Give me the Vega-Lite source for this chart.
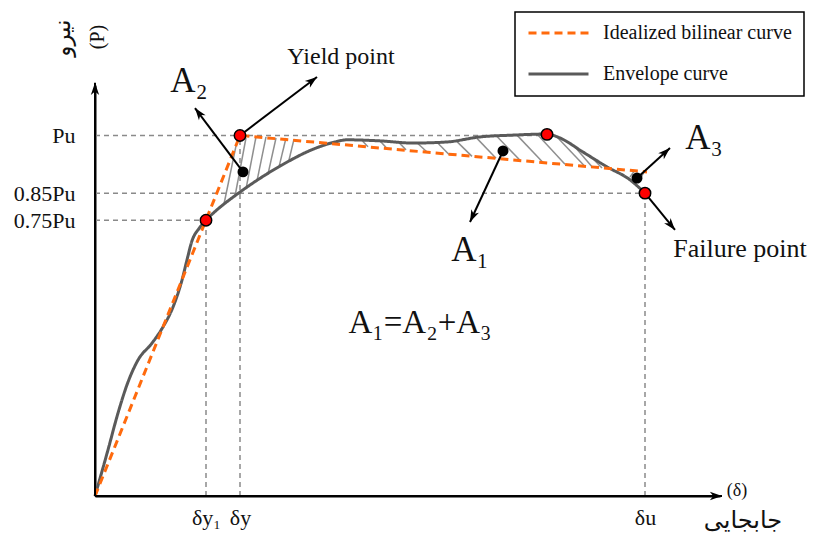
{
  "$schema": "https://vega.github.io/schema/vega-lite/v6.json",
  "width": 625,
  "height": 411,
  "autosize": {"type": "none"},
  "padding": {"left": 95, "top": 85, "right": 96, "bottom": 43},
  "background": "white",
  "config": {
    "view": {"stroke": null},
    "font": "Liberation Serif",
    "axis": {"grid": false, "ticks": false, "domainColor": "#000000", "domainWidth": 2, "labelFont": "Liberation Serif", "labelColor": "#111111", "labelFontSize": 22},
    "legend": {"orient": "none", "legendX": 420, "legendY": -73, "strokeColor": "#000000", "strokeWidth": 1.5, "padding": 12, "symbolType": "stroke", "symbolSize": 3600, "symbolStrokeWidth": 3, "clipHeight": 18, "rowPadding": 21, "labelFont": "Liberation Serif", "labelFontSize": 20, "labelColor": "#111111", "labelOffset": 13, "labelLimit": 320}
  },
  "datasets": {
    "guides": [
      {"line": "Pu", "d": 0, "P": 100, "d2": 90.4, "P2": 100},
      {"line": "0.85Pu", "d": 0, "P": 84, "d2": 110, "P2": 84},
      {"line": "0.75Pu", "d": 0, "P": 76.5, "d2": 22.2, "P2": 76.5},
      {"line": "δy1", "d": 22.2, "P": 0, "d2": 22.2, "P2": 76.5},
      {"line": "δy", "d": 29, "P": 0, "d2": 29, "P2": 100},
      {"line": "δu", "d": 110, "P": 0, "d2": 110, "P2": 84}
    ],
    "hatch": [
      {"area": "A2", "d": 28.2, "P": 97.1, "d2": 25.8, "P2": 81.0},
      {"area": "A2", "d": 30.2, "P": 99.3, "d2": 28.0, "P2": 83.2},
      {"area": "A2", "d": 32.2, "P": 99.6, "d2": 30.2, "P2": 85.2},
      {"area": "A2", "d": 34.2, "P": 99.6, "d2": 32.4, "P2": 87.4},
      {"area": "A2", "d": 36.2, "P": 99.3, "d2": 34.6, "P2": 89.3},
      {"area": "A2", "d": 38.2, "P": 99.3, "d2": 36.8, "P2": 91.3},
      {"area": "A2", "d": 39.8, "P": 99.0, "d2": 38.8, "P2": 93.2},
      {"area": "A1", "d": 53.4, "P": 98.6, "d2": 54.6, "P2": 96.9},
      {"area": "A1", "d": 57.0, "P": 98.5, "d2": 58.4, "P2": 96.4},
      {"area": "A1", "d": 60.6, "P": 98.3, "d2": 62.2, "P2": 96.0},
      {"area": "A1", "d": 64.4, "P": 98.0, "d2": 66.4, "P2": 95.4},
      {"area": "A1", "d": 68.4, "P": 98.1, "d2": 70.8, "P2": 94.7},
      {"area": "A1", "d": 72.4, "P": 98.3, "d2": 75.4, "P2": 94.2},
      {"area": "A1", "d": 76.4, "P": 99.2, "d2": 80.2, "P2": 93.7},
      {"area": "A1", "d": 80.4, "P": 99.7, "d2": 85.0, "P2": 93.1},
      {"area": "A1", "d": 84.4, "P": 100.1, "d2": 89.6, "P2": 92.5},
      {"area": "A1", "d": 88.4, "P": 100.4, "d2": 94.0, "P2": 92.0},
      {"area": "A1", "d": 92.4, "P": 99.6, "d2": 98.0, "P2": 91.4},
      {"area": "A1", "d": 96.0, "P": 96.8, "d2": 99.4, "P2": 91.3},
      {"area": "A1", "d": 99.4, "P": 93.8, "d2": 101.4, "P2": 91.0},
      {"area": "A3", "d": 107.8, "P": 90.0, "d2": 107.0, "P2": 88.5},
      {"area": "A3", "d": 109.8, "P": 89.9, "d2": 108.6, "P2": 86.8}
    ],
    "curves": [
      {"series": "Envelope curve", "d": 0, "P": 0},
      {"series": "Envelope curve", "d": 2.6, "P": 12.8},
      {"series": "Envelope curve", "d": 4.6, "P": 23.0},
      {"series": "Envelope curve", "d": 6.6, "P": 31.6},
      {"series": "Envelope curve", "d": 8.6, "P": 37.7},
      {"series": "Envelope curve", "d": 11.4, "P": 42.4},
      {"series": "Envelope curve", "d": 13.6, "P": 46.9},
      {"series": "Envelope curve", "d": 15.6, "P": 52.4},
      {"series": "Envelope curve", "d": 17.4, "P": 59.9},
      {"series": "Envelope curve", "d": 18.4, "P": 65.5},
      {"series": "Envelope curve", "d": 19.4, "P": 70.8},
      {"series": "Envelope curve", "d": 20.8, "P": 74.2},
      {"series": "Envelope curve", "d": 22.2, "P": 76.5},
      {"series": "Envelope curve", "d": 24.0, "P": 78.9},
      {"series": "Envelope curve", "d": 26.0, "P": 81.2},
      {"series": "Envelope curve", "d": 28.0, "P": 83.3},
      {"series": "Envelope curve", "d": 30.0, "P": 85.3},
      {"series": "Envelope curve", "d": 32.0, "P": 87.2},
      {"series": "Envelope curve", "d": 34.0, "P": 89.0},
      {"series": "Envelope curve", "d": 36.0, "P": 90.7},
      {"series": "Envelope curve", "d": 38.0, "P": 92.3},
      {"series": "Envelope curve", "d": 40.0, "P": 93.8},
      {"series": "Envelope curve", "d": 42.0, "P": 95.2},
      {"series": "Envelope curve", "d": 44.0, "P": 96.4},
      {"series": "Envelope curve", "d": 46.0, "P": 97.4},
      {"series": "Envelope curve", "d": 48.0, "P": 98.2},
      {"series": "Envelope curve", "d": 50.4, "P": 98.8},
      {"series": "Envelope curve", "d": 57.0, "P": 98.5},
      {"series": "Envelope curve", "d": 63.6, "P": 97.9},
      {"series": "Envelope curve", "d": 70.4, "P": 98.2},
      {"series": "Envelope curve", "d": 77.0, "P": 99.6},
      {"series": "Envelope curve", "d": 83.6, "P": 100.1},
      {"series": "Envelope curve", "d": 90.4, "P": 100.4},
      {"series": "Envelope curve", "d": 93.0, "P": 99.3},
      {"series": "Envelope curve", "d": 97.6, "P": 95.4},
      {"series": "Envelope curve", "d": 102.4, "P": 91.3},
      {"series": "Envelope curve", "d": 107.0, "P": 87.7},
      {"series": "Envelope curve", "d": 110.0, "P": 84.0},
      {"series": "Idealized bilinear curve", "d": 0, "P": 0},
      {"series": "Idealized bilinear curve", "d": 29, "P": 100},
      {"series": "Idealized bilinear curve", "d": 110.4, "P": 89.9}
    ],
    "arrows": [
      {"to": "Yield point", "d": 29, "P": 100, "d2": 44.4, "P2": 116.2},
      {"to": "A2", "d": 29.6, "P": 89.9, "d2": 20.0, "P2": 107.6},
      {"to": "A1", "d": 81.6, "P": 95.7, "d2": 75.0, "P2": 76.0},
      {"to": "A3", "d": 108.4, "P": 88.2, "d2": 115.0, "P2": 96.5},
      {"to": "Failure point", "d": 110, "P": 84.0, "d2": 116.0, "P2": 73.8},
      {"to": "P axis", "d": 0, "P": 0, "d2": 0, "P2": 114.6},
      {"to": "δ axis", "d": 0, "P": 0, "d2": 125.4, "P2": 0}
    ],
    "points": [
      {"kind": "key point", "name": "yield", "d": 29, "P": 100},
      {"kind": "key point", "name": "0.75Pu", "d": 22.2, "P": 76.5},
      {"kind": "key point", "name": "peak", "d": 90.4, "P": 100.3},
      {"kind": "key point", "name": "failure", "d": 110, "P": 84.0},
      {"kind": "area marker", "name": "A2", "d": 29.6, "P": 89.9},
      {"kind": "area marker", "name": "A1", "d": 81.6, "P": 95.7},
      {"kind": "area marker", "name": "A3", "d": 108.4, "P": 88.2}
    ],
    "labels": [
      {"role": "area", "text": "A₂", "d": 18.8, "P": 115.1},
      {"role": "area", "text": "A₁", "d": 75.0, "P": 68.2},
      {"role": "area", "text": "A₃", "d": 121.8, "P": 99.3},
      {"role": "callout", "text": "Yield point", "d": 49.2, "P": 121.8},
      {"role": "callout big", "text": "Failure point", "d": 129.0, "P": 68.5},
      {"role": "equation", "text": "A₁=A₂+A₃", "d": 65.0, "P": 48.0},
      {"role": "axis symbol", "text": "(δ)", "d": 128.4, "P": 1.4},
      {"role": "axis word", "text": "جابجایی", "d": 129.6, "P": -6.9},
      {"role": "vertical word", "text": "نیرو", "d": -6.4, "P": 127.0},
      {"role": "vertical symbol", "text": "(P)", "d": 0.6, "P": 127.3}
    ]
  },
  "layer": [
    {
      "data": {"name": "guides"},
      "mark": {"type": "rule", "color": "#8a8a8a", "strokeWidth": 1.5, "strokeDash": [5, 4]},
      "encoding": {
        "x": {"field": "d", "type": "quantitative", "scale": {"domain": [0, 125], "nice": false, "zero": false},
              "axis": {"title": null, "values": [22.2, 29, 110], "labelExpr": "datum.value < 25 ? 'δy₁' : datum.value < 50 ? 'δy' : 'δu'", "labelPadding": 11, "labelOverlap": false, "labelFlush": false, "grid": false, "ticks": false}},
        "y": {"field": "P", "type": "quantitative", "scale": {"domain": [0, 114], "nice": false, "zero": false},
              "axis": {"title": null, "values": [100, 84, 76.5], "labelExpr": "datum.value > 95 ? 'Pu' : datum.value > 80 ? '0.85Pu' : '0.75Pu'", "labelPadding": 20, "labelOverlap": false, "labelFlush": false, "grid": false, "ticks": false}},
        "x2": {"field": "d2"},
        "y2": {"field": "P2"}
      }
    },
    {
      "data": {"name": "hatch"},
      "mark": {"type": "rule", "color": "#8f8f8f", "strokeWidth": 1.5},
      "encoding": {
        "x": {"field": "d", "type": "quantitative"},
        "y": {"field": "P", "type": "quantitative"},
        "x2": {"field": "d2"},
        "y2": {"field": "P2"}
      }
    },
    {
      "data": {"name": "curves"},
      "transform": [{"filter": "datum.series == 'Envelope curve'"}],
      "mark": {"type": "line", "interpolate": "monotone", "strokeWidth": 3},
      "encoding": {
        "x": {"field": "d", "type": "quantitative"},
        "y": {"field": "P", "type": "quantitative"},
        "color": {"field": "series", "type": "nominal", "scale": {"domain": ["Idealized bilinear curve", "Envelope curve"], "range": ["#ff6a0d", "#5a5a5a"]}, "legend": {"title": null}},
        "strokeDash": {"field": "series", "type": "nominal", "scale": {"domain": ["Idealized bilinear curve", "Envelope curve"], "range": [[8, 5], [1, 0]]}, "legend": {"title": null}}
      }
    },
    {
      "data": {"name": "curves"},
      "transform": [{"filter": "datum.series == 'Idealized bilinear curve'"}],
      "mark": {"type": "line", "interpolate": "linear", "strokeWidth": 3},
      "encoding": {
        "x": {"field": "d", "type": "quantitative"},
        "y": {"field": "P", "type": "quantitative"},
        "color": {"field": "series", "type": "nominal", "scale": {"domain": ["Idealized bilinear curve", "Envelope curve"], "range": ["#ff6a0d", "#5a5a5a"]}, "legend": {"title": null}},
        "strokeDash": {"field": "series", "type": "nominal", "scale": {"domain": ["Idealized bilinear curve", "Envelope curve"], "range": [[8, 5], [1, 0]]}, "legend": {"title": null}}
      }
    },
    {
      "data": {"name": "arrows"},
      "mark": {"type": "rule", "color": "#000000", "strokeWidth": 2},
      "encoding": {
        "x": {"field": "d", "type": "quantitative"},
        "y": {"field": "P", "type": "quantitative"},
        "x2": {"field": "d2"},
        "y2": {"field": "P2"}
      }
    },
    {
      "data": {"name": "arrows"},
      "transform": [{"calculate": "atan2((datum.d2 - datum.d) * 5, (datum.P2 - datum.P) * 3.605) * 180 / PI", "as": "heading"}],
      "mark": {"type": "point", "shape": "M0,0 L0.55,1.6 L0,1.15 L-0.55,1.6 Z", "filled": true, "color": "#000000", "opacity": 1, "size": 230},
      "encoding": {
        "x": {"field": "d2", "type": "quantitative"},
        "y": {"field": "P2", "type": "quantitative"},
        "angle": {"field": "heading", "type": "quantitative", "scale": null}
      }
    },
    {
      "data": {"name": "points"},
      "transform": [{"filter": "datum.kind == 'key point'"}],
      "mark": {"type": "point", "shape": "circle", "filled": true, "fill": "#ff0000", "stroke": "#000000", "strokeWidth": 1.5, "opacity": 1, "size": 130},
      "encoding": {
        "x": {"field": "d", "type": "quantitative"},
        "y": {"field": "P", "type": "quantitative"}
      }
    },
    {
      "data": {"name": "points"},
      "transform": [{"filter": "datum.kind == 'area marker'"}],
      "mark": {"type": "point", "shape": "circle", "filled": true, "fill": "#000000", "opacity": 1, "size": 120},
      "encoding": {
        "x": {"field": "d", "type": "quantitative"},
        "y": {"field": "P", "type": "quantitative"}
      }
    },
    {
      "data": {"name": "labels"},
      "transform": [{"filter": "datum.role == 'area'"}],
      "mark": {"type": "text", "font": "Liberation Serif", "fontSize": 35, "color": "#111111", "align": "center", "baseline": "middle"},
      "encoding": {"x": {"field": "d", "type": "quantitative"}, "y": {"field": "P", "type": "quantitative"}, "text": {"field": "text"}}
    },
    {
      "data": {"name": "labels"},
      "transform": [{"filter": "datum.role == 'callout'"}],
      "mark": {"type": "text", "font": "Liberation Serif", "fontSize": 24, "color": "#111111", "align": "center", "baseline": "middle"},
      "encoding": {"x": {"field": "d", "type": "quantitative"}, "y": {"field": "P", "type": "quantitative"}, "text": {"field": "text"}}
    },
    {
      "data": {"name": "labels"},
      "transform": [{"filter": "datum.role == 'callout big'"}],
      "mark": {"type": "text", "font": "Liberation Serif", "fontSize": 26, "color": "#111111", "align": "center", "baseline": "middle"},
      "encoding": {"x": {"field": "d", "type": "quantitative"}, "y": {"field": "P", "type": "quantitative"}, "text": {"field": "text"}}
    },
    {
      "data": {"name": "labels"},
      "transform": [{"filter": "datum.role == 'equation'"}],
      "mark": {"type": "text", "font": "Liberation Serif", "fontSize": 33, "color": "#111111", "align": "center", "baseline": "middle"},
      "encoding": {"x": {"field": "d", "type": "quantitative"}, "y": {"field": "P", "type": "quantitative"}, "text": {"field": "text"}}
    },
    {
      "data": {"name": "labels"},
      "transform": [{"filter": "datum.role == 'axis symbol'"}],
      "mark": {"type": "text", "font": "Liberation Serif", "fontSize": 18, "color": "#111111", "align": "center", "baseline": "middle"},
      "encoding": {"x": {"field": "d", "type": "quantitative"}, "y": {"field": "P", "type": "quantitative"}, "text": {"field": "text"}}
    },
    {
      "data": {"name": "labels"},
      "transform": [{"filter": "datum.role == 'axis word'"}],
      "mark": {"type": "text", "font": "DejaVu Sans", "fontSize": 24, "color": "#111111", "align": "center", "baseline": "middle"},
      "encoding": {"x": {"field": "d", "type": "quantitative"}, "y": {"field": "P", "type": "quantitative"}, "text": {"field": "text"}}
    },
    {
      "data": {"name": "labels"},
      "transform": [{"filter": "datum.role == 'vertical word'"}],
      "mark": {"type": "text", "font": "DejaVu Sans", "fontSize": 23, "angle": 270, "color": "#111111", "align": "center", "baseline": "middle"},
      "encoding": {"x": {"field": "d", "type": "quantitative"}, "y": {"field": "P", "type": "quantitative"}, "text": {"field": "text"}}
    },
    {
      "data": {"name": "labels"},
      "transform": [{"filter": "datum.role == 'vertical symbol'"}],
      "mark": {"type": "text", "font": "Liberation Serif", "fontSize": 20, "angle": 270, "color": "#111111", "align": "center", "baseline": "middle"},
      "encoding": {"x": {"field": "d", "type": "quantitative"}, "y": {"field": "P", "type": "quantitative"}, "text": {"field": "text"}}
    }
  ]
}
